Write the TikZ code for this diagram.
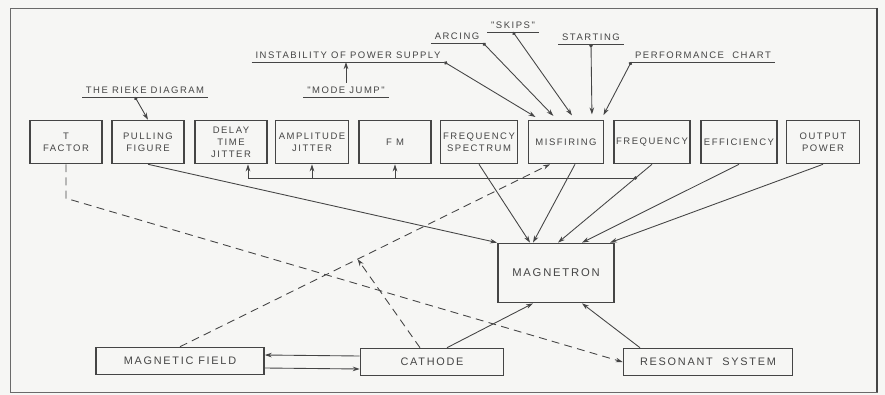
\documentclass[tikz,border=0pt]{standalone}
\usepackage{fontspec}
\newfontfamily\stencil[LetterSpace=16]{Liberation Sans}
\usetikzlibrary{arrows.meta,calc}
\definecolor{ink}{HTML}{454545}
\definecolor{paper}{HTML}{F6F6F4}

\begin{document}
\begin{tikzpicture}[x=0.02cm, y=-0.02cm,
  prop/.style={draw=ink, line width=0.9pt, minimum width=#1, minimum height=0.86cm, inner sep=0pt, align=center, text=ink, font=\stencil\fontsize{5.4}{6.8}\selectfont},
  part/.style={draw=ink, line width=0.9pt, minimum width=#1, minimum height=0.54cm, inner sep=0pt, text=ink, font=\stencil\fontsize{6.2}{7}\selectfont},
  core/.style={draw=ink, line width=1pt, minimum width=2.32cm, minimum height=1.18cm, text=ink, font=\stencil\fontsize{6.4}{7}\selectfont},
  cause/.style={anchor=south, inner xsep=2pt, inner ysep=2pt, text=ink, font=\stencil\fontsize{5.4}{6.8}\selectfont},
  conn/.style={draw=ink, line width=0.5pt, -{Stealth[length=4pt,width=2.6pt]}},
  lead/.style={conn, {Circle[length=2pt]}-{Stealth[length=4pt,width=2.6pt]}},
  link/.style={conn, dash pattern=on 4.5pt off 3pt}
]

% Sheet and frame
\fill[paper] (0,0) rectangle (885,395);
\draw[ink!80, line width=0.5pt] (10,8) rectangle (877,392);
\draw[ink, line width=1.4pt] (877,8) -- (877,392);

% Properties of the tube (top row)
\node[prop=1.44cm] (tf) at (66,142) {T\\FACTOR};
\node[prop=1.44cm] (pull) at (148,142) {PULLING\\FIGURE};
\node[prop=1.44cm] (delay) at (231,142) {DELAY\\TIME\\JITTER};
\node[prop=1.46cm] (amp) at (312,142) {AMPLITUDE\\JITTER};
\node[prop=1.44cm] (fm) at (395,142) {F M};
\node[prop=1.54cm] (fs) at (479,142) {FREQUENCY\\SPECTRUM};
\node[prop=1.50cm] (mis) at (566,142) {MISFIRING};
\node[prop=1.52cm] (freq) at (652,142) {FREQUENCY};
\node[prop=1.52cm] (eff) at (739,142) {EFFICIENCY};
\node[prop=1.46cm] (out) at (823,142) {OUTPUT\\POWER};

% Tube and its parts
\node[core] (mag) at (556,273) {MAGNETRON};
\node[part=3.36cm] (mf) at (180,361) {MAGNETIC FIELD};
\node[part=2.86cm] (cath) at (432,362) {CATHODE};
\node[part=3.38cm] (res) at (708,362) {RESONANT\ \ SYSTEM};

% Underlined notes
\node[cause] (rieke) at (145,97) {THE RIEKE DIAGRAM};
\node[cause] (instab) at (348,62) {INSTABILITY OF POWER SUPPLY};
\node[cause] (mode) at (346,97) {"MODE JUMP"};
\node[cause] (arcing) at (457,43) {ARCING};
\node[cause] (skips) at (513,32) {"SKIPS"};
\node[cause] (start) at (591,44) {STARTING};
\node[cause] (perf) at (703,62) {PERFORMANCE\ \ CHART};
\foreach \n in {rieke,instab,mode,arcing,skips,start,perf}
  \draw[ink, line width=0.5pt] (\n.south west) -- (\n.south east);

\draw[lead] ([xshift=-0.2cm]rieke.south) -- (pull.north);
\draw[conn] (mode.north) -- (mode.north |- instab.south);

% Causes of misfiring
\draw[lead, shorten >=3pt] (instab.south east) -- ($(mis.north)+(-26,0)$);
\draw[lead, shorten >=3pt] (arcing.south east) -- ($(mis.north)+(-9,0)$);
\draw[lead, shorten >=3pt] (skips.south) -- ($(mis.north)+(9,0)$);
\draw[lead, shorten >=3pt] (start.south) -- ($(mis.north)+(26,0)$);
\draw[lead, shorten >=3pt] (perf.south west) -- ($(mis.north)+(35,0)$);

% Into the magnetron
\draw[conn] (pull.south) -- (mag.north west);
\draw[conn] (fs.south) -- ($(mag.north)+(-26,0)$);
\draw[conn] ($(mis.south)+(9,0)$) -- ($(mag.north)+(-23,0)$);
\draw[conn] (freq.south) -- coordinate[pos=0.175] (tap) ($(mag.north)+(2,0)$);
\draw[conn] (eff.south) -- ($(mag.north)+(26,0)$);
\draw[conn] (out.south) -- ($(mag.north)+(54,0)$);

% Jitter bus off the frequency line
\coordinate (busL) at ($(delay.south)+(17,0)$);
\draw[ink, line width=0.5pt] (tap) -- (tap -| busL);
\fill[ink] (tap) circle (1.1pt);
\draw[conn] (tap -| busL) -- (busL);
\draw[conn] (tap -| amp.south) -- (amp.south);
\draw[conn] (tap -| fm.south) -- (fm.south);

% Dashed influences
\draw[link] (tf.south) -- ++(0,34) -- (res.west);
\draw[link] (mf.north) -- coordinate[pos=0.48] (hit) ($(mis.south)+(-16,0)$);
\draw[link] ($(cath.north)+(-12,0)$) -- (hit);

% Parts feeding the magnetron
\draw[conn] ($(cath.north)+(15,0)$) -- ($(mag.south)+(-23,0)$);
\draw[conn] ($(res.north)+(-68,0)$) -- ($(mag.south)+(26,0)$);
\draw[conn] ($(cath.west)+(0,-6)$) -- ($(mf.east)+(0,-6)$);
\draw[conn] ($(mf.east)+(0,7)$) -- ($(cath.west)+(0,7)$);

\end{tikzpicture}
\end{document}
